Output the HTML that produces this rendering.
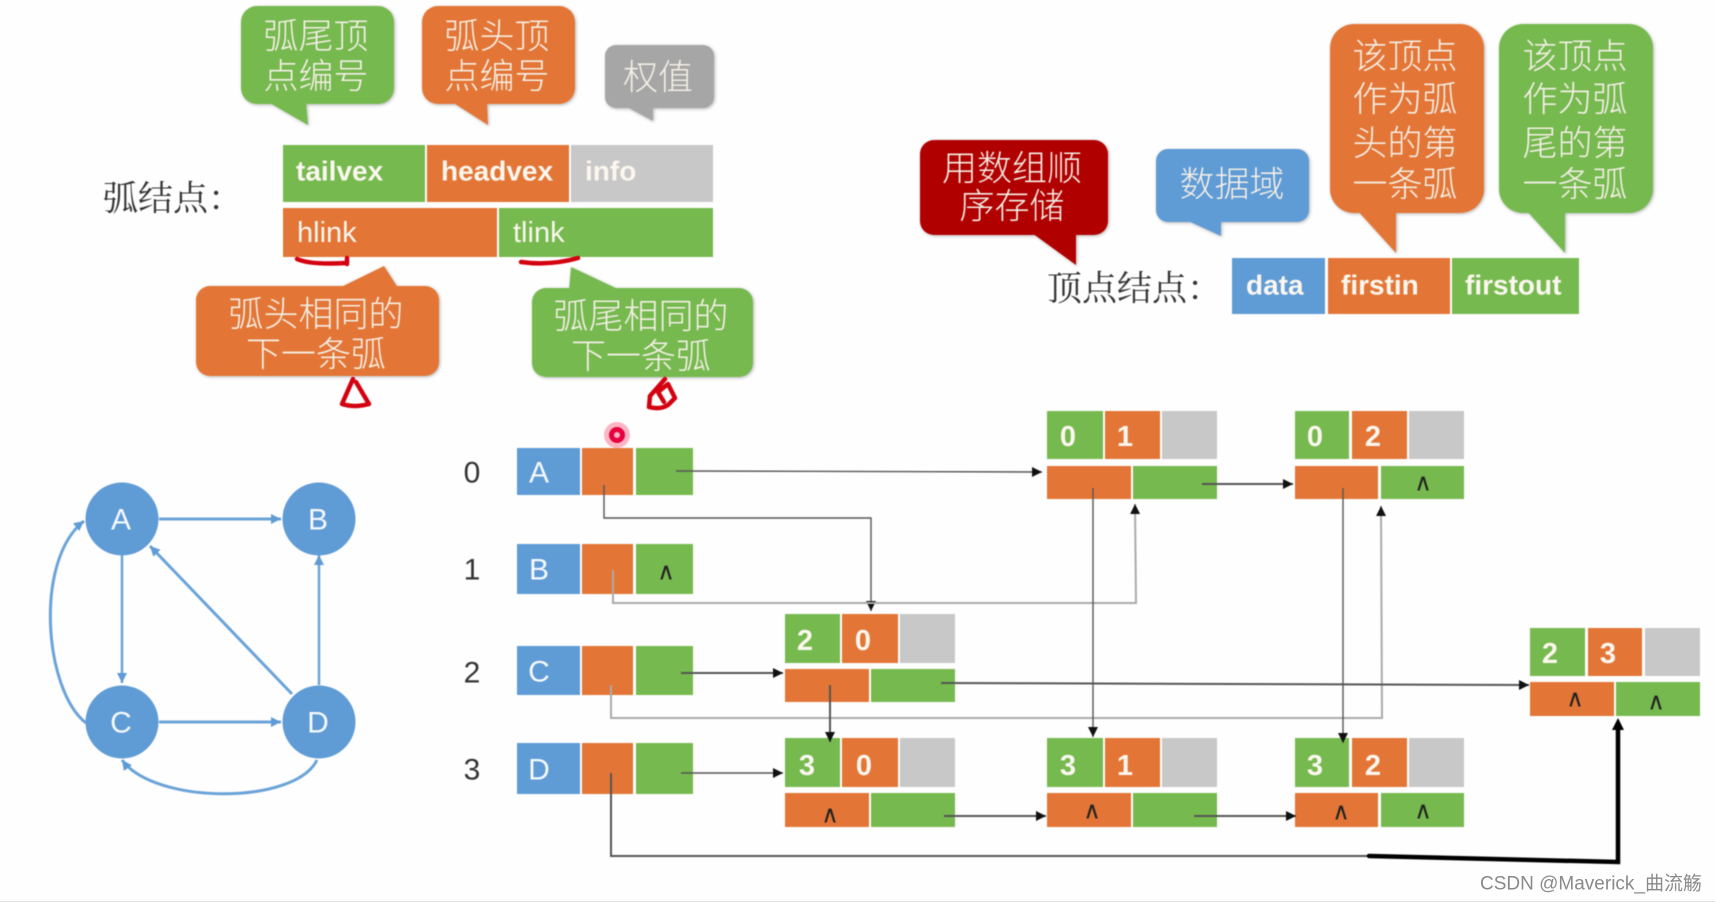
<!DOCTYPE html>
<html lang="zh"><head><meta charset="utf-8"><title>十字链表</title>
<style>
html,body{margin:0;padding:0;background:#fff}
svg{display:block;width:1715px;height:902px}
.art{filter:blur(.6px)}
.g{fill:#76b94f}.o{fill:#e37636}.y{fill:#c8c8c8}.b{fill:#5f9bd5}
.bub{filter:drop-shadow(1px 1px 1.5px rgba(0,0,0,.28))}
.cn{font-family:"Liberation Sans","Noto Sans CJK SC",sans-serif;font-size:35px;fill:#f4efe6;text-anchor:middle;dominant-baseline:central;font-weight:300;transform:translateY(2px)}
.lb{font-family:"Liberation Serif","Noto Serif CJK SC",serif;font-size:35px;fill:#333;dominant-baseline:central;transform:translateY(2px)}
.en{font-family:"Liberation Sans",sans-serif;font-size:28px;font-weight:700;fill:#fbf7ef;dominant-baseline:central}
.enr{font-weight:400;font-size:29px}
.n{font-family:"Liberation Sans",sans-serif;font-size:29px;font-weight:700;fill:#fbf7ef;text-anchor:middle;dominant-baseline:central;transform:translateY(1px)}
.v{font-family:"Liberation Sans",sans-serif;font-size:30px;fill:#f5f9fd;text-anchor:middle;dominant-baseline:central}
.i{font-family:"Liberation Sans",sans-serif;font-size:30px;fill:#333;text-anchor:middle;dominant-baseline:central}
.c{font-family:"Liberation Sans","DejaVu Sans",sans-serif;font-size:24px;fill:#222;text-anchor:middle;dominant-baseline:central}
.l{fill:none;stroke:#555;stroke-width:1.4}
.ll{fill:none;stroke:#aaa;stroke-width:2}
.e{fill:none;stroke:#6aa3d8;stroke-width:3}
.r{fill:none;stroke:#d3000f;stroke-width:4.5;stroke-linecap:round;stroke-linejoin:round}
</style></head><body>
<svg xmlns="http://www.w3.org/2000/svg" width="1715" height="902" viewBox="0 0 1715 902">
<defs>
<marker id="k" markerUnits="userSpaceOnUse" markerWidth="12" markerHeight="12" refX="10" refY="6" orient="auto"><path d="M0 1L10 6L0 11Z" fill="#111"/></marker>
<marker id="u" markerUnits="userSpaceOnUse" markerWidth="12" markerHeight="12" refX="10" refY="6" orient="auto"><path d="M0 1L10 6L0 11Z" fill="#5f9bd5"/></marker>
</defs>
<rect width="1715" height="902" fill="#fefefe"/>
<g class="art">
<!-- top bubbles -->
<g class="bub g"><rect x="241" y="6" width="153" height="98" rx="16"/><path d="M268 102L306 102L308 125Z"/></g>
<g class="bub o"><rect x="422" y="6" width="153" height="98" rx="16"/><path d="M452 102L487 102L488 125Z"/></g>
<g class="bub" fill="#a6a6a6"><rect x="605" y="45" width="109" height="63" rx="11"/><path d="M625 106L653 106L653 121Z"/></g>
<text class="cn" x="316" y="35">弧尾顶</text><text class="cn" x="316" y="75">点编号</text>
<text class="cn" x="497" y="35">弧头顶</text><text class="cn" x="497" y="75">点编号</text>
<text class="cn" x="658" y="76">权值</text>

<!-- arc node legend -->
<text class="lb" x="103" y="197">弧结点：</text>
<rect class="g" x="283" y="145" width="142" height="57"/><rect class="o" x="427" y="145" width="142" height="57"/><rect class="y" x="571" y="145" width="142" height="57"/>
<rect class="o" x="283" y="208" width="214" height="49"/><rect class="g" x="499" y="208" width="214" height="49"/>
<text class="en" x="296" y="171">tailvex</text><text class="en" x="441" y="171">headvex</text><text class="en" x="585" y="171">info</text>
<text class="en enr" x="297" y="233">hlink</text><text class="en enr" x="513" y="233">tlink</text>
<path class="r" d="M297 259Q310 265 346 263M347 258V264"/><path class="r" d="M521 262Q550 266 578 258"/>

<g class="bub o"><rect x="196" y="286" width="243" height="90" rx="14"/><path d="M339 288L384 266L398 288Z"/></g>
<g class="bub g"><rect x="532" y="288" width="221" height="89" rx="14"/><path d="M569 290L571 267L620 290Z"/></g>
<text class="cn" x="316" y="313">弧头相同的</text><text class="cn" x="316" y="353">下一条弧</text>
<text class="cn" x="641" y="315">弧尾相同的</text><text class="cn" x="641" y="355">下一条弧</text>
<path class="r" d="M353 379L342 404Q355 408 369 404L356 382"/>
<path class="r" d="M665 379L650 396L649 407Q660 410 668 405L675 398L668 384L658 392L664 402"/>

<!-- right bubbles -->
<g class="bub" fill="#b10000"><rect x="920" y="140" width="188" height="95" rx="14"/><path d="M1032 233L1076 233L1076 265Z"/></g>
<g class="bub b"><rect x="1156" y="149" width="153" height="73" rx="12"/><path d="M1186 220L1221 220L1221 236Z"/></g>
<g class="bub o"><rect x="1330" y="24" width="154" height="189" rx="24"/><path d="M1357 210L1396 210L1396 253Z"/></g>
<g class="bub g"><rect x="1499" y="24" width="154" height="189" rx="24"/><path d="M1526 210L1565 210L1565 253Z"/></g>
<text class="cn" x="1012" y="167">用数组顺</text><text class="cn" x="1012" y="205">序存储</text>
<text class="cn" x="1232" y="183">数据域</text>
<text class="cn" x="1405" y="55">该顶点</text><text class="cn" x="1405" y="98">作为弧</text><text class="cn" x="1405" y="142">头的第</text><text class="cn" x="1405" y="183">一条弧</text>
<text class="cn" x="1575" y="55">该顶点</text><text class="cn" x="1575" y="98">作为弧</text><text class="cn" x="1575" y="142">尾的第</text><text class="cn" x="1575" y="183">一条弧</text>

<text class="lb" x="1047" y="287">顶点结点：</text>
<rect class="b" x="1232" y="258" width="93" height="56"/><rect class="o" x="1328" y="258" width="122" height="56"/><rect class="g" x="1452" y="258" width="127" height="56"/>
<text class="en" x="1246" y="285">data</text><text class="en" x="1341" y="285">firstin</text><text class="en" x="1465" y="285">firstout</text>

<!-- graph -->
<path class="e" d="M159 519H281" marker-end="url(#u)"/>
<path class="e" d="M159 722H281" marker-end="url(#u)"/>
<path class="e" style="stroke-width:2.5" d="M122 555V683" marker-end="url(#u)"/>
<path class="e" style="stroke-width:2.5" d="M319 685V555" marker-end="url(#u)"/>
<path class="e" d="M292 694L150 546" marker-end="url(#u)"/>
<path class="e" d="M86 723C44 690 34 560 84 521" marker-end="url(#u)"/>
<path class="e" d="M317 760C295 805 155 805 122 760" marker-end="url(#u)"/>
<g class="b"><circle cx="122" cy="519" r="36.5"/><circle cx="319" cy="519" r="36.5"/><circle cx="122" cy="722" r="36.5"/><circle cx="319" cy="722" r="36.5"/></g>
<text class="v" x="121" y="520">A</text><text class="v" x="318" y="520">B</text><text class="v" x="121" y="723">C</text><text class="v" x="318" y="723">D</text>

<!-- index -->
<text class="i" x="472" y="473">0</text><text class="i" x="472" y="570">1</text><text class="i" x="472" y="673">2</text><text class="i" x="472" y="770">3</text>

<!-- vertex rows -->
<rect class="b" x="517" y="448" width="63" height="47"/><rect class="o" x="582" y="448" width="51" height="47"/><rect class="g" x="636" y="448" width="57" height="47"/>
<rect class="b" x="517" y="544" width="63" height="50"/><rect class="o" x="582" y="544" width="51" height="50"/><rect class="g" x="636" y="544" width="57" height="50"/>
<rect class="b" x="517" y="646" width="63" height="49"/><rect class="o" x="582" y="646" width="51" height="49"/><rect class="g" x="636" y="646" width="57" height="49"/>
<rect class="b" x="517" y="743" width="63" height="51"/><rect class="o" x="582" y="743" width="51" height="51"/><rect class="g" x="636" y="743" width="57" height="51"/>
<text class="v" x="539" y="473">A</text><text class="v" x="539" y="570">B</text><text class="v" x="539" y="672">C</text><text class="v" x="539" y="770">D</text>
<text class="c" x="666" y="572">∧</text>

<!-- arc nodes: top rows -->
<g>
<rect class="g" x="1047" y="411" width="56" height="48"/><rect class="o" x="1105" y="411" width="55" height="48"/><rect class="y" x="1162" y="411" width="55" height="48"/>
<rect class="o" x="1047" y="466" width="84" height="33"/><rect class="g" x="1133" y="466" width="84" height="33"/>
<rect class="g" x="1295" y="411" width="54" height="48"/><rect class="o" x="1352" y="411" width="55" height="48"/><rect class="y" x="1409" y="411" width="55" height="48"/>
<rect class="o" x="1295" y="466" width="83" height="33"/><rect class="g" x="1381" y="466" width="83" height="33"/>
<rect class="g" x="785" y="614" width="55" height="49"/><rect class="o" x="842" y="614" width="56" height="49"/><rect class="y" x="900" y="614" width="55" height="49"/>
<rect class="o" x="785" y="669" width="84" height="33"/><rect class="g" x="871" y="669" width="84" height="33"/>
<rect class="g" x="785" y="738" width="55" height="49"/><rect class="o" x="842" y="738" width="56" height="49"/><rect class="y" x="900" y="738" width="55" height="49"/>
<rect class="o" x="785" y="793" width="84" height="34"/><rect class="g" x="871" y="793" width="84" height="34"/>
<rect class="g" x="1047" y="738" width="56" height="49"/><rect class="o" x="1105" y="738" width="55" height="49"/><rect class="y" x="1162" y="738" width="55" height="49"/>
<rect class="o" x="1047" y="793" width="84" height="34"/><rect class="g" x="1133" y="793" width="84" height="34"/>
<rect class="g" x="1295" y="738" width="54" height="49"/><rect class="o" x="1352" y="738" width="55" height="49"/><rect class="y" x="1409" y="738" width="55" height="49"/>
<rect class="o" x="1295" y="793" width="83" height="34"/><rect class="g" x="1381" y="793" width="83" height="34"/>
<rect class="g" x="1530" y="628" width="55" height="48"/><rect class="o" x="1588" y="628" width="54" height="48"/><rect class="y" x="1645" y="628" width="55" height="48"/>
<rect class="o" x="1530" y="682" width="84" height="34"/><rect class="g" x="1616" y="682" width="84" height="34"/>
</g>
<text class="n" x="1068" y="436">0</text><text class="n" x="1125" y="436">1</text>
<text class="n" x="1315" y="436">0</text><text class="n" x="1373" y="436">2</text>
<text class="n" x="805" y="640">2</text><text class="n" x="863" y="640">0</text>
<text class="n" x="807" y="765">3</text><text class="n" x="864" y="765">0</text>
<text class="n" x="1068" y="765">3</text><text class="n" x="1125" y="765">1</text>
<text class="n" x="1315" y="765">3</text><text class="n" x="1373" y="765">2</text>
<text class="n" x="1550" y="653">2</text><text class="n" x="1608" y="653">3</text>
<text class="c" x="1423" y="483">∧</text>
<text class="c" x="1575" y="699">∧</text><text class="c" x="1656" y="702">∧</text>
<text class="c" x="830" y="815">∧</text><text class="c" x="1092" y="811">∧</text><text class="c" x="1341" y="812">∧</text><text class="c" x="1423" y="811">∧</text>

<!-- connectors -->
<path class="l" d="M676 471L1042 472" marker-end="url(#k)"/>
<path class="l" d="M604 485V518H871V611" marker-end="url(#k)"/>
<path class="ll" d="M613 570V603H1136L1135 504" marker-end="url(#k)"/>
<path class="ll" d="M611 685V718H1382L1381 506" marker-end="url(#k)"/>
<path class="l" style="stroke-width:2" d="M681 673H783" marker-end="url(#k)"/>
<path class="l" d="M681 773H783" marker-end="url(#k)"/>
<path class="l" style="stroke-width:2" d="M1202 484H1293" marker-end="url(#k)"/>
<path class="l" d="M1093 488V737" marker-end="url(#k)"/>
<path class="l" d="M1343 488V743" marker-end="url(#k)"/>
<path class="l" style="stroke-width:2" d="M941 683L1529 685" marker-end="url(#k)"/>
<path class="l" style="stroke-width:2" d="M830 685V742" marker-end="url(#k)"/>
<path class="l" style="stroke-width:2" d="M944 816H1046" marker-end="url(#k)"/>
<path class="l" style="stroke-width:2" d="M1194 816H1296" marker-end="url(#k)"/>
<path class="l" style="stroke-width:2" d="M611 773V856H1367"/>
<path d="M1369 856L1618 862V728" fill="none" stroke="#000" stroke-width="4.5" stroke-linecap="round"/>
<path d="M1612 730L1618 718L1624 730Z" fill="#000"/>

<circle cx="617" cy="435" r="13" fill="#ff2d55" opacity=".35"/>
<circle cx="617" cy="435" r="8" fill="#e6003c"/>
<circle cx="617" cy="435" r="3" fill="#ffb3c6"/>
</g>
<text x="1480" y="884" font-family="'Liberation Sans','Noto Sans CJK SC',sans-serif" font-size="19" fill="#8a8a8a" dominant-baseline="central">CSDN @Maverick_曲流觞</text>
<rect y="901" width="1715" height="1" fill="#e6e6e6"/>
</svg>
</body></html>
